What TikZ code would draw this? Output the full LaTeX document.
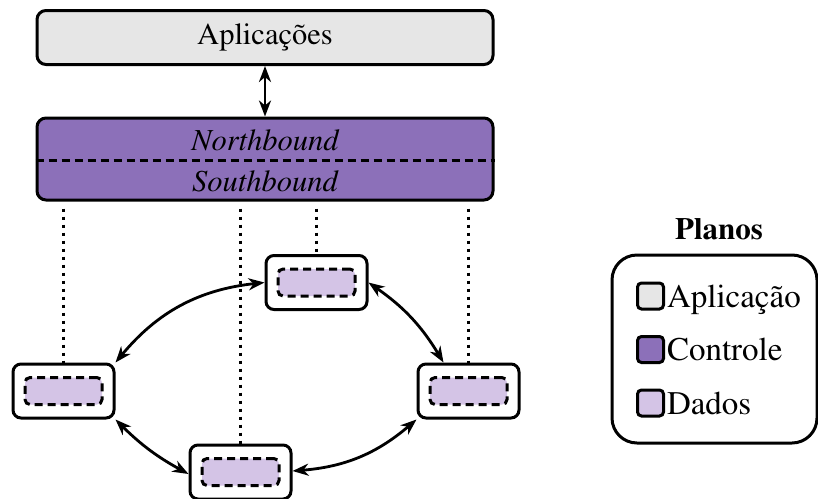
\documentclass[tikz,border=0pt]{standalone}
\usepackage[T1]{fontenc}
\usepackage{times}
\usetikzlibrary{arrows.meta,calc}
\definecolor{appgray}{RGB}{230,230,230}
\definecolor{ctrlpurple}{RGB}{140,112,185}
\definecolor{datapurple}{RGB}{212,196,230}

\begin{document}
\begin{tikzpicture}[x=1pt,y=-1pt, line width=3pt,
  layer/.style={draw, rounded corners=9pt, minimum width=456pt, inner sep=0pt},
  switchbox/.style={draw, fill=white, rounded corners=8pt, minimum width=101pt, minimum height=54pt, inner sep=0pt},
  flowtable/.style={draw, dash pattern=on 8pt off 5pt, fill=datapurple, rounded corners=5pt, minimum width=77pt, minimum height=27pt, inner sep=0pt},
  link/.style={line width=2.8pt, {Stealth[length=16pt,width=12pt,inset=5pt]}-{Stealth[length=16pt,width=12pt,inset=5pt]}},
  probe/.style={line width=3pt, dash pattern=on 3pt off 5pt},
  keybox/.style={draw, rounded corners=4pt, minimum size=26pt, inner sep=0pt},
  keytext/.style={anchor=base west, inner sep=0pt, xshift=0.5pt, font=\rmfamily\fontsize{33}{38}\selectfont},
  font=\rmfamily\fontsize{30.5}{36}\selectfont]

\useasboundingbox (0,0) rectangle (818,498);

% application and control layers
\node[layer, fill=appgray, minimum height=54pt] (apps) at (265,37.5) {Aplica\c{c}\~{o}es};
\node[layer, fill=ctrlpurple, minimum height=82pt] (ctrl) at (265,159) {};
\draw[dash pattern=on 8pt off 5pt] (ctrl.west |- 0,160) -- (ctrl.east |- 0,160);
\node (nb) at (265,140) {\itshape Northbound};
\node (sb) at (265,181) {\itshape Southbound};
\draw[link] (apps.south) -- (ctrl.north);

% switch positions
\coordinate (ptop) at (316.5,282.5);
\coordinate (pleft) at (63.5,391);
\coordinate (pright) at (468.5,391);
\coordinate (pbot) at (240.5,472);

% southbound probes to each switch
\foreach \p in {ptop,pleft,pright,pbot}
  \draw[probe] ($(ctrl.south -| \p)+(0,7)$) -- ($(\p)+(0,-27)$);

% switches with their flow tables
\foreach \p/\n in {ptop/stop,pleft/sleft,pright/sright,pbot/sbot}{
  \node[switchbox] (\n) at (\p) {};
  \node[flowtable] (f\n) at (\p) {};
}

% data plane links
\draw[link] (sleft.north east) to[bend left=22] (stop.west);
\draw[link] (stop.east) to[bend left=12] ([xshift=-25pt]sright.north);
\draw[link] (sleft.south east) to[bend right=8] ([yshift=-2pt]sbot.west);
\draw[link] ([yshift=1pt]sbot.east) to[bend right=18] (sright.south west);

% legend
\node[font=\rmfamily\fontsize{31}{36}\selectfont\bfseries] (ltitle) at (719,229) {Planos};
\node[draw, rounded corners=25pt, minimum width=205pt, minimum height=188pt] (legend) at (714.5,349) {};
\node[keybox, fill=appgray] (kapp) at (650.5,296) {};
\node[keytext] (tapp) at ($(kapp.east)+(0,11)$) {Aplica\c{c}\~{a}o};
\node[keybox, fill=ctrlpurple] (kctrl) at (650.5,349.5) {};
\node[keytext] (tctrl) at ($(kctrl.east)+(0,11)$) {Controle};
\node[keybox, fill=datapurple] (kdata) at (650.5,403) {};
\node[keytext] (tdata) at ($(kdata.east)+(0,11)$) {Dados};
\end{tikzpicture}
\end{document}
